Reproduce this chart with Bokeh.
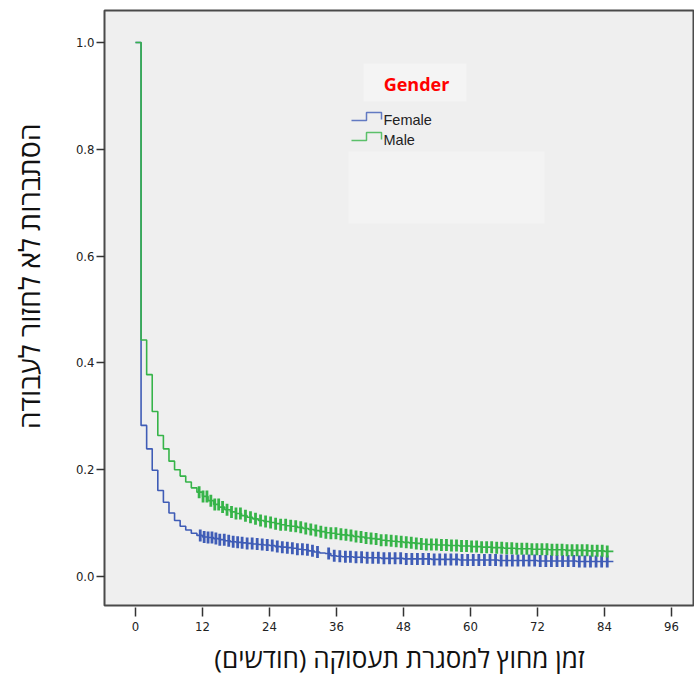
import numpy as np
from bokeh.plotting import figure
from bokeh.layouts import row
from bokeh.models import Range1d, FixedTicker, PrintfTickFormatter, Label
from bokeh.embed import file_html
from bokeh.resources import INLINE

# Kaplan-Meier estimates, one value per month (0..85)
MONTHS = list(range(86))
FEMALE_SURV = [1.000, 0.283, 0.239, 0.199, 0.161, 0.139, 0.119, 0.105, 0.094, 0.087,
               0.081, 0.077, 0.074, 0.073, 0.071, 0.069, 0.067, 0.065, 0.064, 0.063,
               0.062, 0.061, 0.060, 0.059, 0.058, 0.056, 0.055, 0.054, 0.053, 0.051,
               0.050, 0.048, 0.046, 0.044, 0.043, 0.039, 0.038, 0.037, 0.037, 0.036,
               0.036, 0.035, 0.035, 0.035, 0.034, 0.034, 0.034, 0.034, 0.033, 0.033,
               0.033, 0.033, 0.033, 0.032, 0.032, 0.032, 0.032, 0.032, 0.031, 0.031,
               0.031, 0.031, 0.031, 0.031, 0.031, 0.030, 0.030, 0.030, 0.030, 0.030,
               0.030, 0.030, 0.029, 0.029, 0.029, 0.029, 0.029, 0.029, 0.029, 0.028,
               0.028, 0.028, 0.028, 0.028, 0.028, 0.028]
MALE_SURV = [1.000, 0.443, 0.378, 0.309, 0.264, 0.239, 0.216, 0.200, 0.188, 0.177,
             0.166, 0.158, 0.150, 0.142, 0.135, 0.130, 0.125, 0.121, 0.118, 0.114,
             0.111, 0.108, 0.105, 0.103, 0.101, 0.099, 0.097, 0.095, 0.094, 0.092,
             0.090, 0.088, 0.086, 0.084, 0.082, 0.081, 0.079, 0.078, 0.077, 0.075,
             0.074, 0.072, 0.071, 0.070, 0.068, 0.067, 0.066, 0.065, 0.064, 0.063,
             0.062, 0.061, 0.060, 0.060, 0.059, 0.059, 0.058, 0.058, 0.057, 0.057,
             0.056, 0.056, 0.055, 0.055, 0.054, 0.054, 0.053, 0.053, 0.052, 0.052,
             0.052, 0.051, 0.051, 0.051, 0.050, 0.050, 0.050, 0.049, 0.049, 0.049,
             0.049, 0.048, 0.048, 0.048, 0.047, 0.047]
FOLLOW_UP_END = 85.6

# censored observations (months)
CENSOR_F = [11.6, 12.3, 13.0, 13.7, 14.4, 15.1, 15.9, 16.7, 17.5, 18.3, 19.1, 20.0,
            20.9, 21.8, 22.7, 23.6, 24.5, 25.4, 26.3, 27.2, 28.1, 29.0, 29.9, 30.8,
            31.7, 32.6, 34.6, 35.6, 36.6, 37.6, 38.5, 39.5, 40.5, 41.5, 42.5, 43.5,
            44.5, 45.5, 46.5, 47.5, 48.5, 49.5, 50.5, 51.5, 52.5, 53.5, 54.5, 55.5,
            56.5, 57.5, 58.5, 59.5, 60.5, 61.5, 62.5, 63.5, 64.5, 65.5, 66.5, 67.5,
            68.5, 69.5, 70.5, 71.5, 72.5, 73.5, 74.5, 75.5, 76.5, 77.5, 78.5, 79.5,
            80.5, 81.5, 82.5, 83.5, 84.5]
CENSOR_M = [11.4, 12.1, 12.8, 13.5, 14.2, 14.9, 15.6, 16.4, 17.2, 18.0, 18.8, 19.7,
            20.6, 21.5, 22.4, 23.3, 24.2, 25.1, 26.0, 26.9, 27.8, 28.7, 29.6, 30.5,
            31.4, 32.3, 33.2, 34.1, 35.0, 35.9, 36.8, 37.7, 38.6, 39.5, 40.4, 41.3,
            42.2, 43.1, 44.0, 44.9, 45.8, 46.7, 47.6, 48.5, 49.4, 50.3, 51.2, 52.1,
            53.0, 53.9, 54.8, 55.7, 56.6, 57.5, 58.4, 59.3, 60.2, 61.1, 62.0, 62.9,
            63.8, 64.7, 65.6, 66.5, 67.4, 68.3, 69.2, 70.1, 71.0, 71.9, 72.8, 73.7,
            74.6, 75.5, 76.4, 77.3, 78.2, 79.1, 80.0, 80.9, 81.8, 82.7, 83.6, 84.5]

X_TICKS = [0, 12, 24, 36, 48, 60, 72, 84, 96]
Y_TICKS = [0.0, 0.2, 0.4, 0.6, 0.8, 1.0]
X_TITLE = "\u200fזמן מחוץ למסגרת תעסוקה (חודשים)\u200f"
Y_TITLE = "הסתברות לא לחזור לעבודה"

BLUE = "#3f5cb6"
GREEN = "#36b449"
TICK_FONT = "'Liberation Sans Narrow', 'DejaVu Sans Condensed', 'Arial Narrow', sans-serif"
TITLE_FONT = "Open Sans"

W, H = 694, 679
STRIP = 50                 # width of the strip holding the vertical title
LEFT, TOP, BOTTOM = 104, 10, 74
X_START, X_END = -5.55, 100.13
Y_START, Y_END = -0.0543, 1.0599

# strip with the vertical axis title (its frame covers the whole strip)
side = figure(width=STRIP, height=H, output_backend="svg", toolbar_location=None,
              x_range=Range1d(0, STRIP), y_range=Range1d(0, H),
              min_border=0, x_axis_type=None, y_axis_type=None)
side.outline_line_color = None
side.background_fill_color = "white"
side.border_fill_color = "white"
side.grid.visible = False
side.add_layout(Label(x=28.5, y=H - 478, text=Y_TITLE, angle=np.pi / 2,
                      text_align="left", text_baseline="middle",
                      text_font=TITLE_FONT, text_font_size="28.5px", text_color="#111111"))

p = figure(width=W - STRIP, height=H, output_backend="svg", toolbar_location=None,
           x_range=Range1d(X_START, X_END), y_range=Range1d(Y_START, Y_END),
           min_border_left=LEFT - STRIP, min_border_right=0, min_border_top=TOP,
           min_border_bottom=BOTTOM)
p.background_fill_color = "#efefef"
p.border_fill_color = "white"
p.outline_line_color = "#4a4a4a"
p.outline_line_width = 2
p.grid.visible = False

# pixel (page) -> data helpers for annotation placement
fw = W - LEFT
fh = H - TOP - BOTTOM
def dx(px):
    return X_START + (px - LEFT) * (X_END - X_START) / fw
def dy(py):
    return Y_END - (py - TOP) * (Y_END - Y_START) / fh

# axes
xa = p.xaxis[0]
xa.ticker = FixedTicker(ticks=X_TICKS)
xa.axis_line_color = None
xa.major_tick_in = -2
xa.major_tick_out = 11
xa.major_tick_line_color = "#333333"
xa.major_tick_line_width = 1.5
xa.minor_tick_line_color = None
xa.major_label_text_font = TICK_FONT
xa.major_label_text_font_size = "13px"
xa.major_label_text_color = "#222222"
xa.major_label_standoff = 5
xa.axis_label = X_TITLE
xa.axis_label_text_font = TITLE_FONT
xa.axis_label_text_font_size = "26px"
xa.axis_label_text_font_style = "normal"
xa.axis_label_text_color = "#111111"
xa.axis_label_standoff = 6

ya = p.yaxis[0]
ya.ticker = FixedTicker(ticks=Y_TICKS)
ya.formatter = PrintfTickFormatter(format="%.1f")
ya.axis_line_color = None
ya.major_tick_in = 0
ya.major_tick_out = 8
ya.major_tick_line_color = "#333333"
ya.major_tick_line_width = 1.5
ya.minor_tick_line_color = None
ya.major_label_text_font = TICK_FONT
ya.major_label_text_font_size = "13px"
ya.major_label_text_color = "#222222"
ya.major_label_standoff = 2

# survival step curves
def curve(surv):
    xs = MONTHS + [FOLLOW_UP_END]
    ys = surv + [surv[-1]]
    return xs, ys

fx, fy = curve(FEMALE_SURV)
mx, my = curve(MALE_SURV)
p.step(fx, fy, mode="after", line_color=BLUE, line_width=1.6)
p.step(mx, my, mode="after", line_color=GREEN, line_width=1.6)

# censor ticks placed on the curve
def censor_y(times, surv):
    return [surv[int(np.floor(t))] for t in times]

p.scatter(CENSOR_F, censor_y(CENSOR_F, FEMALE_SURV), marker="dash", angle=np.pi / 2,
          size=12, line_color=BLUE, line_width=2.8)
p.scatter(CENSOR_M, censor_y(CENSOR_M, MALE_SURV), marker="dash", angle=np.pi / 2,
          size=12, line_color=GREEN, line_width=2.8)

# legend block
p.quad(left=[dx(363)], right=[dx(466)], top=[dy(63)], bottom=[dy(101)],
       fill_color="#f4f4f4", line_color=None)
p.quad(left=[dx(348)], right=[dx(544)], top=[dy(151)], bottom=[dy(223)],
       fill_color="#f3f3f3", line_color=None)
p.add_layout(Label(x=dx(416), y=dy(83), text="Gender", text_color="#ff0000",
                   text_font=TITLE_FONT, text_font_size="18px", text_font_style="bold",
                   text_align="center", text_baseline="middle"))

for base, color, name in [(120, BLUE, "Female"), (140, GREEN, "Male")]:
    icon_x = [dx(351), dx(366), dx(366), dx(381), dx(381)]
    icon_y = [dy(base), dy(base), dy(base - 8), dy(base - 8), dy(base - 1)]
    p.line(icon_x, icon_y, line_color=color, line_width=1.5, alpha=0.8)
    p.add_layout(Label(x=dx(383), y=dy(base - 1), text=name, text_color="#222222",
                       text_font="Liberation Sans", text_font_size="14.5px",
                       text_align="left", text_baseline="middle"))

layout = row(side, p, spacing=0)
open("out.html", "w").write(file_html(layout, INLINE))
